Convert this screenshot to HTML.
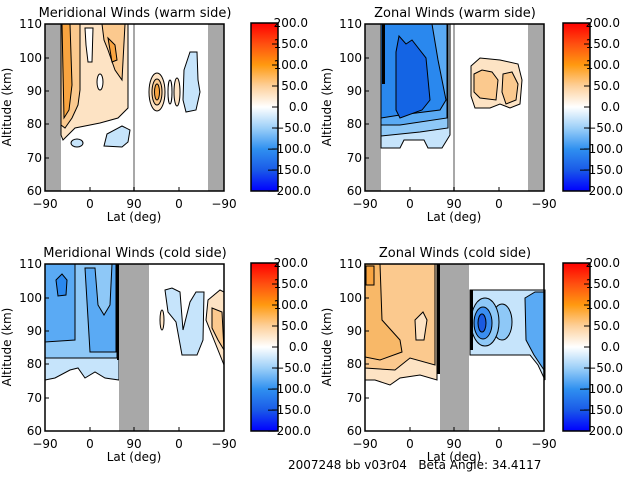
<!DOCTYPE html>
<html><head><style>
html,body{margin:0;padding:0;background:#fff;}
svg{display:block;font-family:"DejaVu Sans","Liberation Sans",sans-serif;}
text{font-size:12px;fill:#000;}
</style></head><body>
<svg width="640" height="480" viewBox="0 0 640 480">
<defs>
<linearGradient id="cb" x1="0" y1="0" x2="0" y2="1">
<stop offset="0" stop-color="#ff0000"/>
<stop offset="0.125" stop-color="#ff5010"/>
<stop offset="0.25" stop-color="#ff9a10"/>
<stop offset="0.375" stop-color="#fdd09a"/>
<stop offset="0.5" stop-color="#ffffff"/>
<stop offset="0.625" stop-color="#9ccff8"/>
<stop offset="0.75" stop-color="#3090f0"/>
<stop offset="0.875" stop-color="#1a5ae8"/>
<stop offset="1" stop-color="#0000ff"/>
</linearGradient>
<g id="axes">
<rect x="45" y="24" width="179" height="167" fill="none" stroke="#000" stroke-width="1.5"/>
<g stroke="#000">
<line x1="45" y1="191" x2="49" y2="191"/><line x1="45" y1="158" x2="49" y2="158"/><line x1="45" y1="124" x2="49" y2="124"/><line x1="45" y1="91" x2="49" y2="91"/><line x1="45" y1="58" x2="49" y2="58"/><line x1="45" y1="24" x2="49" y2="24"/>
<line x1="90" y1="191" x2="90" y2="187"/><line x1="134" y1="191" x2="134" y2="187"/><line x1="179" y1="191" x2="179" y2="187"/>
</g>
<g text-anchor="end">
<text x="42" y="195">60</text><text x="42" y="162">70</text><text x="42" y="128">80</text><text x="42" y="95">90</text><text x="42" y="62">100</text><text x="42" y="28">110</text>
</g>
<g text-anchor="middle">
<text x="45" y="208">−90</text><text x="90" y="208">0</text><text x="134" y="208">90</text><text x="179" y="208">0</text><text x="224" y="208">−90</text>
<text x="134" y="221">Lat (deg)</text>
</g>
<text transform="translate(11,107) rotate(-90)" text-anchor="middle">Altitude (km)</text>
</g>
<g id="cbar">
<rect x="251" y="23" width="27" height="168" fill="url(#cb)" stroke="#000" stroke-width="1.5"/>
<g stroke="#000">
<line x1="272" y1="44" x2="278" y2="44"/><line x1="272" y1="65" x2="278" y2="65"/><line x1="272" y1="86" x2="278" y2="86"/><line x1="272" y1="107" x2="278" y2="107"/><line x1="272" y1="128" x2="278" y2="128"/><line x1="272" y1="149" x2="278" y2="149"/><line x1="272" y1="170" x2="278" y2="170"/>
</g>
<g text-anchor="end">
<text x="308" y="27">200.0</text><text x="308" y="48">150.0</text><text x="308" y="69">100.0</text><text x="308" y="90">50.0</text><text x="308" y="111">0.0</text><text x="311" y="132">−50.0</text><text x="311" y="153">−100.0</text><text x="311" y="174">−150.0</text><text x="311" y="195">−200.0</text>
</g>
</g>
</defs>

<g stroke="#000" stroke-width="1">
<rect x="45" y="24" width="16" height="167" fill="#a8a8a8" stroke="none"/>
<rect x="133" y="24" width="2" height="167" fill="#a8a8a8" stroke="none"/>
<rect x="208" y="24" width="16" height="167" fill="#a8a8a8" stroke="none"/>
<polygon fill="#fde3c4" points="61,24 128,24 128,108 118,118 100,123 90,125 75,128 68,135 63,140 61,135"/>
<polygon fill="#fbc98e" points="61,24 80,24 80,90 78,105 72,118 65,128 61,125"/>
<polygon fill="#fbc98e" points="102,24 125,24 122,80 115,70 108,50 104,40"/>
<polygon fill="#f8a440" points="62,24 70,24 72,85 69,110 64,118"/>
<polygon fill="#f8a440" points="108,38 115,45 117,60 112,62"/>
<polygon fill="#fff" points="85,28 93,28 92,62 88,62 86,45"/>
<ellipse cx="100" cy="82" rx="3" ry="8" fill="#fff"/>
<ellipse cx="77" cy="143" rx="6" ry="4" fill="#c6e4fb"/>
<polygon fill="#c6e4fb" points="104,146 107,134 122,126 130,130 128,142 122,147"/>
<ellipse cx="157" cy="92" rx="8" ry="19" fill="#fde3c4"/>
<ellipse cx="157" cy="92" rx="5" ry="13" fill="#fbc98e"/>
<ellipse cx="157" cy="92" rx="2.5" ry="8" fill="#f8a440"/>
<ellipse cx="170" cy="92" rx="2" ry="12" fill="#fff"/>
<ellipse cx="177" cy="92" rx="3" ry="14" fill="#fde3c4"/>
<polygon fill="#c6e4fb" points="184,70 190,52 197,52 198,80 200,92 196,110 186,112 183,100"/>
</g>
<use href="#axes"/>
<use href="#cbar"/>
<text x="135" y="17" text-anchor="middle" style="font-size:13px">Meridional Winds (warm side)</text>

<g transform="translate(320,0)" stroke="#000" stroke-width="1">
<rect x="45" y="24" width="16" height="167" fill="#a8a8a8" stroke="none"/>
<rect x="133" y="24" width="2" height="167" fill="#a8a8a8" stroke="none"/>
<rect x="208" y="24" width="16" height="167" fill="#a8a8a8" stroke="none"/>
<polygon fill="#c6e4fb" points="61,24 130,24 130,135 122,148 108,148 104,140 84,140 80,148 61,148"/>
<polygon fill="#8ec8f7" points="61,24 128,24 128,128 100,132 61,136"/>
<polygon fill="#5aaaf4" points="61,24 127,24 127,118 80,125 61,125"/>
<polygon fill="#2a88ee" points="61,24 112,24 118,60 126,100 120,110 80,115 61,118"/>
<polygon fill="#1464e4" points="76,52 79,36 86,44 92,40 106,58 110,100 102,110 80,118 76,110"/>
<rect x="62" y="24" width="3" height="60" fill="#000" stroke="none"/>
<polygon fill="#fde3c4" points="151,66 160,58 180,60 198,64 202,80 200,104 190,108 180,104 170,108 155,108 151,96"/>
<polygon fill="#fbc98e" points="154,74 162,70 172,72 178,80 176,100 160,98 154,92"/>
<polygon fill="#fbc98e" points="183,74 192,72 198,84 196,100 186,104 182,92"/>
</g>
<use href="#axes" transform="translate(320,0)"/>
<use href="#cbar" transform="translate(312,0)"/>
<text x="455" y="17" text-anchor="middle" style="font-size:13px">Zonal Winds (warm side)</text>

<g transform="translate(0,240)" stroke="#000" stroke-width="1">
<polygon fill="#c6e4fb" points="45,24 119,24 119,140 105,138 95,132 85,138 78,128 70,130 55,138 45,140"/>
<polygon fill="#8ec8f7" points="45,24 117,24 117,118 90,118 45,118"/>
<polygon fill="#5aaaf4" points="45,24 75,24 75,100 45,102"/>
<polygon fill="#5aaaf4" points="85,28 95,28 98,65 104,75 110,65 112,24 116,24 116,112 90,112"/>
<polygon fill="#2a88ee" points="56,40 62,34 67,40 66,55 58,56"/>
<rect x="117" y="24" width="3" height="96" fill="#000" stroke="none"/>
<rect x="119" y="24" width="30" height="167" fill="#a8a8a8" stroke="none"/>
<polygon fill="#c6e4fb" points="165,50 172,48 180,52 183,90 190,62 196,52 204,52 203,100 197,115 182,115 176,82 168,72"/>
<polygon fill="#fde3c4" points="208,60 220,50 224,52 224,125 214,100 206,80"/>
<polygon fill="#fbc98e" points="212,68 222,72 224,110 218,100 212,88"/>
<ellipse cx="162" cy="80" rx="2" ry="10" fill="#fde3c4"/>
</g>
<use href="#axes" transform="translate(0,240)"/>
<use href="#cbar" transform="translate(0,240)"/>
<text x="135" y="257" text-anchor="middle" style="font-size:13px">Meridional Winds (cold side)</text>

<g transform="translate(320,240)" stroke="#000" stroke-width="1">
<polygon fill="#fde3c4" points="45,24 117,24 117,140 100,135 80,138 70,145 55,140 45,140"/>
<polygon fill="#fbc98e" points="45,24 115,24 115,125 90,118 75,130 45,128"/>
<polygon fill="#f8b868" points="45,24 60,24 62,80 80,100 82,112 60,120 45,117"/>
<polygon fill="#f8a440" points="46,26 54,26 54,45 46,45"/>
<polygon fill="#fde3c4" points="95,80 103,72 107,80 104,100 96,100"/>
<rect x="117" y="24" width="3" height="110" fill="#000" stroke="none"/>
<rect x="120" y="24" width="29" height="167" fill="#a8a8a8" stroke="none"/>
<polygon fill="#c6e4fb" points="150,50 225,50 225,140 218,125 210,115 150,115"/>
<ellipse cx="182" cy="82" rx="10" ry="18" fill="#8ec8f7"/>
<ellipse cx="165" cy="82" rx="14" ry="24" fill="#8ec8f7"/>
<ellipse cx="163" cy="83" rx="9" ry="16" fill="#3a8ef0"/>
<ellipse cx="162" cy="83" rx="4" ry="9" fill="#1a5ae0"/>
<polygon fill="#5aaaf4" points="205,58 215,52 224,52 224,130 214,115 206,100"/>
<rect x="150" y="50" width="3" height="60" fill="#000" stroke="none"/>
</g>
<use href="#axes" transform="translate(320,240)"/>
<use href="#cbar" transform="translate(312,240)"/>
<text x="455" y="257" text-anchor="middle" style="font-size:13px">Zonal Winds (cold side)</text>

<text x="288" y="469" style="font-size:12px;white-space:pre">2007248 bb v03r04   Beta Angle: 34.4117</text>
</svg>
</body></html>
